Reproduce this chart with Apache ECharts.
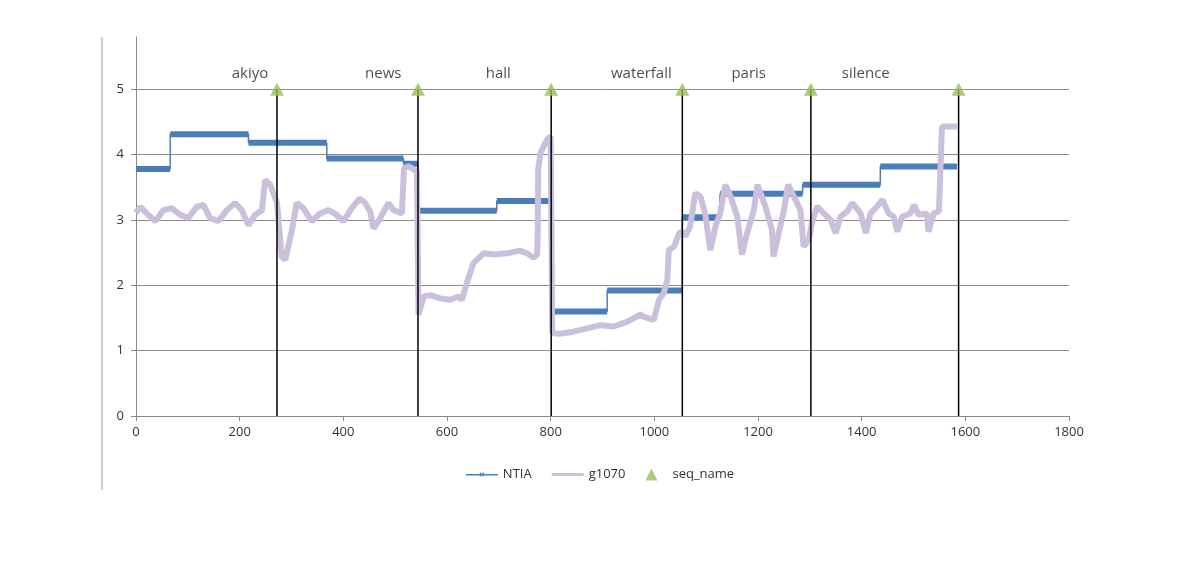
<!DOCTYPE html>
<html>
<head>
<meta charset="utf-8">
<script src="https://cdn.jsdelivr.net/npm/echarts@6/dist/echarts.min.js"></script>
<style>
  html, body { margin: 0; padding: 0; background: #fff; }
  #chart { width: 1200px; height: 561px; }
</style>
</head>
<body>
<div id="chart"></div>
<script>
// sequence boundaries (seq_name series)
const seqNames = ['akiyo', 'news', 'hall', 'waterfall', 'paris', 'silence'];
const seqX = [272, 544, 801, 1054, 1302, 1587];
const seqLabelX = [220, 477, 699, 975, 1182, 1408];
const seqTop = 5;

// NTIA steps
const ntiaStart = [0, 66, 217, 368, 516, 545, 696, 801, 909, 1054, 1127, 1286, 1436];
const ntiaEnd = [66, 217, 368, 516, 544, 696, 801, 909, 1054, 1125, 1286, 1436, 1584];
const ntiaValue = [3.78, 4.31, 4.18, 3.94, 3.86, 3.14, 3.29, 1.60, 1.92, 3.04, 3.40, 3.54, 3.82];

// g1070 curve
const g1070X = [0, 8, 21, 37, 53, 69, 85, 101, 117, 130, 143, 159, 175, 191, 204, 217, 230, 243, 249, 259,
  272, 281, 288, 301, 310, 323, 339, 355, 371, 387, 400, 416, 432, 442, 452, 458, 469, 487, 497, 513,
  517, 526, 542,
  545, 555, 568, 587, 606, 622, 629, 638, 651, 671, 690, 716, 741, 754, 767, 774, 775, 776, 780, 793, 800,
  803, 818, 844, 870, 896, 921, 947, 973, 986, 999, 1009, 1018, 1025, 1028, 1038, 1048, 1054,
  1060, 1069, 1079, 1089, 1098, 1108, 1118, 1127, 1137, 1147, 1160, 1169, 1179, 1192, 1199, 1214, 1227,
  1230, 1240, 1250, 1258, 1269, 1282, 1288, 1298, 1304,
  1314, 1327, 1340, 1350, 1359, 1372, 1382, 1398, 1408, 1417, 1430, 1440, 1452, 1462, 1469, 1478, 1494,
  1501, 1510, 1526, 1529, 1539, 1549, 1555, 1584];
const g1070Y = [3.11, 3.2, 3.1, 2.98, 3.15, 3.18, 3.08, 3.03, 3.2, 3.23, 3.03, 2.98, 3.15, 3.26, 3.15, 2.92, 3.08, 3.15, 3.61, 3.54,
  3.26, 2.44, 2.39, 2.85, 3.26, 3.18, 2.98, 3.1, 3.15, 3.08, 2.98, 3.18, 3.33, 3.26, 3.13, 2.87, 3.0, 3.26, 3.15, 3.1,
  3.79, 3.82, 3.74,
  1.55, 1.83, 1.85, 1.80, 1.78, 1.83, 1.78, 2.03, 2.34, 2.49, 2.47, 2.49, 2.53, 2.49, 2.42, 2.47, 2.80, 3.77, 4.02, 4.23, 4.28,
  1.27, 1.26, 1.29, 1.34, 1.39, 1.37, 1.44, 1.55, 1.50, 1.47, 1.78, 1.88, 2.08, 2.54, 2.59, 2.80, 2.82,
  2.75, 2.90, 3.41, 3.36, 3.10, 2.54, 2.90, 3.10, 3.54, 3.36, 3.05, 2.47, 2.80, 3.15, 3.54, 3.21, 2.85,
  2.44, 2.80, 3.15, 3.54, 3.36, 3.15, 2.59, 2.70, 2.95,
  3.21, 3.10, 3.0, 2.80, 3.05, 3.13, 3.26, 3.10, 2.80, 3.10, 3.21, 3.31, 3.10, 3.05, 2.82, 3.05, 3.10,
  3.23, 3.08, 3.10, 2.82, 3.10, 3.13, 4.43, 4.43];

const yTicks = [0, 1, 2, 3, 4, 5];

const ntiaLine = [];
ntiaStart.forEach(function (s, i) {
  ntiaLine.push([s, ntiaValue[i]]);
  ntiaLine.push([ntiaEnd[i], ntiaValue[i]]);
});

const font = 'Open Sans';
const chart = echarts.init(document.getElementById('chart'));
chart.setOption({
  animation: false,
  backgroundColor: '#fff',
  grid: { left: 136, right: 131, top: 37, bottom: 145 },
  legend: {
    top: 463,
    left: 'center',
    itemGap: 20,
    itemWidth: 32,
    itemHeight: 12,
    textStyle: { fontFamily: font, fontSize: 13, color: '#333' },
    data: [
      { name: 'NTIA', icon: 'path://M0,5.3h32v1.4h-32z M14.5,3.5l1.5,1.5l1.5,-1.5l0.8,0.8l-1.5,1.5l1.5,1.5l-0.8,0.8l-1.5,-1.5l-1.5,1.5l-0.8,-0.8l1.5,-1.5l-1.5,-1.5z', itemStyle: { color: '#4a7ebb' } },
      { name: 'g1070', icon: 'path://M0,4.5h32v3h-32z', itemStyle: { color: '#cbc0dc' } },
      { name: 'seq_name', icon: 'path://M5,0L10,10L0,10Z', itemStyle: { color: '#9bbb59' } }
    ]
  },
  xAxis: {
    type: 'value',
    min: 0,
    max: 1800,
    interval: 200,
    axisLine: { lineStyle: { color: '#8a8a8a', width: 1 } },
    axisTick: { show: true, inside: false, length: 5, lineStyle: { color: '#8a8a8a' } },
    axisLabel: {
      fontFamily: font, fontSize: 13, color: '#333', margin: 10,
      formatter: function (v) { return String(v); }
    },
    splitLine: { show: false }
  },
  yAxis: {
    type: 'value',
    min: 0,
    max: 5.8,
    interval: 1,
    axisLine: { show: true, lineStyle: { color: '#8a8a8a', width: 1 } },
    axisTick: { show: true, inside: false, length: 5, lineStyle: { color: '#8a8a8a' }, customValues: yTicks },
    axisLabel: { fontFamily: font, fontSize: 13, color: '#333', margin: 12, customValues: yTicks },
    splitLine: { show: true, lineStyle: { color: '#8c8c8c', width: 1 } }
  },
  graphic: [{
    type: 'line',
    shape: { x1: 102, y1: 37, x2: 102, y2: 490 },
    style: { stroke: '#9a9a9a', lineWidth: 1 }
  }],
  series: [
    {
      name: 'NTIA',
      type: 'line',
      data: ntiaLine,
      symbol: 'none',
      lineStyle: { color: '#4a7ebb', width: 1.5 },
      itemStyle: { color: '#4a7ebb' },
      z: 2
    },
    {
      name: 'NTIA',
      type: 'custom',
      data: ntiaStart.map(function (s, i) { return [s, ntiaEnd[i], ntiaValue[i]]; }),
      encode: { x: [0, 1], y: 2 },
      renderItem: function (params, api) {
        const a = api.coord([api.value(0), api.value(2)]);
        const b = api.coord([api.value(1), api.value(2)]);
        return {
          type: 'rect',
          shape: { x: a[0], y: a[1] - 3, width: b[0] - a[0], height: 6 },
          style: { fill: '#4a7ebb' }
        };
      },
      z: 2
    },
    {
      name: 'g1070',
      type: 'line',
      data: g1070X.map(function (x, i) { return [x, g1070Y[i]]; }),
      symbol: 'none',
      lineStyle: { color: '#cbc0dc', width: 6 },
      itemStyle: { color: '#cbc0dc' },
      z: 3
    },
    {
      name: 'seqLines',
      type: 'custom',
      data: seqX.map(function (x) { return [x, 0, seqTop]; }),
      encode: { x: 0, y: [1, 2] },
      renderItem: function (params, api) {
        const a = api.coord([api.value(0), api.value(1)]);
        const b = api.coord([api.value(0), api.value(2)]);
        return {
          type: 'line',
          shape: { x1: a[0], y1: a[1], x2: b[0], y2: b[1] },
          style: { stroke: '#000', lineWidth: 1.5 }
        };
      },
      z: 4
    },
    {
      name: 'seq_name',
      type: 'scatter',
      data: seqX.map(function (x) { return [x, seqTop]; }),
      symbol: 'triangle',
      symbolSize: [14, 13],
      itemStyle: { color: '#9bbb59' },
      z: 5
    },
    {
      name: 'seqLabels',
      type: 'scatter',
      silent: true,
      symbolSize: 0,
      data: seqLabelX.map(function (x, i) { return { name: seqNames[i], value: [x, 5.24] }; }),
      label: {
        show: true,
        position: 'inside',
        formatter: '{b}',
        fontFamily: font,
        fontSize: 15,
        color: '#222'
      },
      z: 6
    }
  ]
});
</script>
</body>
</html>
